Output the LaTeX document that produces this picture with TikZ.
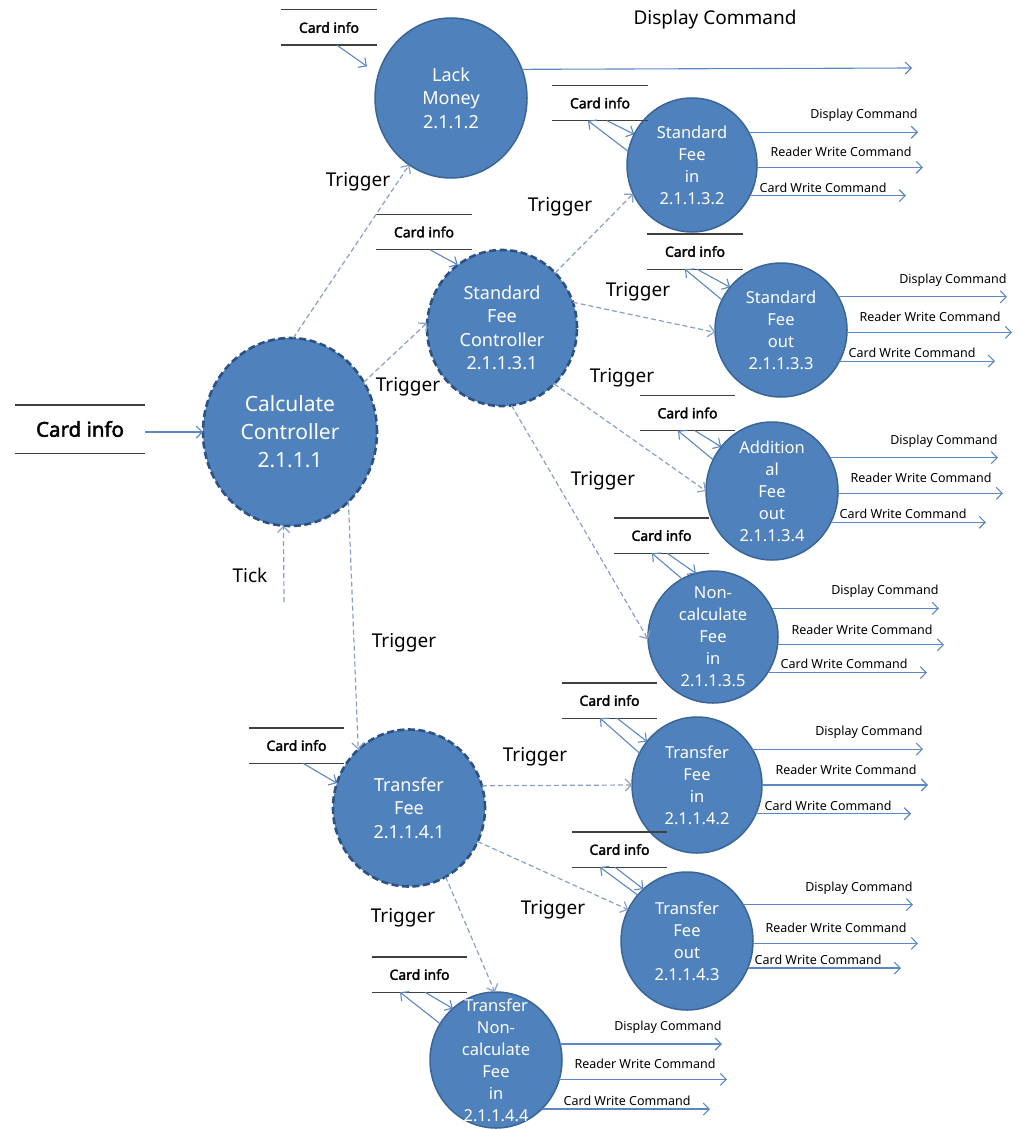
\documentclass[tikz,border=0pt]{standalone}
\usepackage{fontspec}
\setmainfont{Noto Sans}[AutoFakeBold=2.2]
\usetikzlibrary{shapes.geometric,arrows.meta}
\definecolor{procblue}{HTML}{4F81BD}
\definecolor{procedge}{HTML}{3A6594}
\definecolor{ctrledge}{HTML}{2D5282}
\definecolor{flowblue}{HTML}{5B87C2}
\definecolor{trigblue}{HTML}{8A9FC4}
\definecolor{storegray}{HTML}{3F3F3F}
\tikzset{
	proc/.style={ellipse, fill=procblue, draw=procedge, line width=1.5pt, inner sep=0pt, outer sep=0pt},
	ctrl/.style={proc, draw=ctrledge, line width=2.6pt, dash pattern=on 7pt off 3.5pt},
	ptext/.style={text=white, align=center, inner sep=0pt},
	pbig/.style={font=\fontsize{21}{28}\selectfont},
	pmid/.style={font=\fontsize{18}{23.5}\selectfont},
	psmall/.style={font=\fontsize{16.5}{22}\selectfont},
	store/.style={minimum width=95, minimum height=35, inner sep=0pt, font=\bfseries\fontsize{14}{16}\selectfont},
	storeline/.style={draw=storegray, line width=1.4pt},
	flow/.style={flowblue, line width=1.1pt, -{Straight Barb[length=6pt,width=12pt]}},
	trig/.style={trigblue, line width=1.2pt, dash pattern=on 5pt off 3pt, -{Straight Barb[length=6pt,width=12pt]}},
	cmd/.style={text=black, inner sep=0pt, font=\fontsize{12.5}{14}\selectfont},
	trglabel/.style={inner sep=0pt, font=\fontsize{19}{22}\selectfont}
}
\newcommand{\procnode}[5]{
	\node(#1) at (#3) [#2] {};
	\node(#1-t) at (#1) [ptext, #4] {#5};
}
\newcommand{\storeoutline}[1]{
	\draw[storeline] (#1.north west) -- (#1.north east);
	\draw[storeline] (#1.south west) -- (#1.south east);
}
\newcommand{\cardio}[6]{
	\draw[flow] ([xshift=#3]#1.south) -- (#2.#4);
	\draw[flow] (#2.#5) -- ([xshift=#6]#1.south);
}
\newcommand{\cmdout}[4]{
	\path (#1.center) ++(226,0) coordinate (#1-d) ++(5,0) coordinate (#1-r) ++(-17,0) coordinate (#1-c);
	\draw[flow] (#1.#2) -- (#1-d |- #1.#2) node[cmd, anchor=south east, yshift=10] {Display Command};
	\draw[flow] (#1.#3) -- (#1-r |- #1.#3) node[cmd, anchor=south east, xshift=-11, yshift=10] {Reader Write Command};
	\draw[flow] (#1.#4) -- (#1-c |- #1.#4) node[cmd, anchor=south east, xshift=-19, yshift=3] {Card Write Command};
}

\begin{document}
\begin{tikzpicture}[x=1pt,y=-1pt]
	\useasboundingbox (0,0) rectangle (1020,1129);

	\procnode{calc}{ctrl, minimum width=174, minimum height=188}{290,432}{pbig}{Calculate\\Controller\\2.1.1.1}
	\procnode{lack}{proc, minimum width=152, minimum height=160}{451,98}{pmid}{Lack\\Money\\2.1.1.2}
	\procnode{sfc}{ctrl, minimum width=150, minimum height=156}{502,328}{pmid}{Standard\\Fee\\Controller\\2.1.1.3.1}
	\procnode{sfin}{proc, minimum width=130, minimum height=134}{692,165}{psmall}{Standard\\Fee\\in\\2.1.1.3.2}
	\procnode{sfout}{proc, minimum width=132, minimum height=134}{781,330}{psmall}{Standard\\Fee\\out\\2.1.1.3.3}
	\procnode{addout}{proc, minimum width=132, minimum height=138}{772,491}{psmall}{Addition\\al\\Fee\\out\\2.1.1.3.4}
	\procnode{noncalc}{proc, minimum width=130, minimum height=132}{713,637}{psmall}{Non-\\calculate\\Fee\\in\\2.1.1.3.5}
	\procnode{tf}{ctrl, minimum width=152, minimum height=157}{409,808}{pmid}{Transfer\\Fee\\2.1.1.4.1}
	\procnode{tfin}{proc, minimum width=130, minimum height=136}{697,785}{psmall}{Transfer\\Fee\\in\\2.1.1.4.2}
	\procnode{tfout}{proc, minimum width=132, minimum height=138}{687,941}{psmall}{Transfer\\Fee\\out\\2.1.1.4.3}
	\procnode{tnc}{proc, minimum width=132, minimum height=136}{496,1060}{psmall}{Transfer\\Non-\\calculate\\Fee\\in\\2.1.1.4.4}

	\node(ci0) at (80,429) [store, minimum width=130, minimum height=48, font=\bfseries\fontsize{20.5}{24}\selectfont] {Card info};
	\node(ci1) at (329,27.5) [store] {Card info};
	\node(ci2) at (424,232) [store] {Card info};
	\node(ci3) at (600,103) [store] {Card info};
	\node(ci4) at (695,251.5) [store] {Card info};
	\node(ci5) at (687.5,413) [store] {Card info};
	\node(ci6) at (661.5,535.5) [store] {Card info};
	\node(ci7) at (609.5,700.5) [store] {Card info};
	\node(ci8) at (619.5,849.5) [store] {Card info};
	\node(ci9) at (419.5,974.5) [store] {Card info};
	\node(ci10) at (296.5,745.5) [store] {Card info};
	\foreach \s in {ci0,ci1,ci2,ci3,ci4,ci5,ci6,ci7,ci8,ci9,ci10}
		\storeoutline{\s};

	\draw[flow] ([yshift=-3]ci0.east) -- (calc.west);
	\draw[flow, shorten >=14pt] ([xshift=8]ci1.south) -- (lack.162);
	\draw[flow] ([xshift=6]ci2.south) -- (sfc.125);
	\draw[flow] ([xshift=6.5]ci10.south) -- (tf.161);
	\cardio{ci3}{sfin}{7}{152}{168}{-12}
	\cardio{ci4}{sfout}{2}{140}{153}{-10}
	\cardio{ci5}{addout}{7.5}{139}{152}{-9.5}
	\cardio{ci6}{noncalc}{5.5}{105}{118}{-9.5}
	\cardio{ci7}{tfin}{7.5}{139}{151}{-9.5}
	\cardio{ci8}{tfout}{-4.5}{130}{137}{-19.5}
	\cardio{ci9}{tnc}{5.5}{130}{147}{-19.5}

	\coordinate (lackend) at (912,68);
	\draw[flow] (lack.22) -- (lackend);
	\node(dcmd) at (715,20) [inner sep=0pt, font=\fontsize{19}{22}\selectfont] {Display Command};

	\cmdout{sfin}{30}{358}{332}
	\cmdout{sfout}{30}{358}{332}
	\cmdout{addout}{30}{358}{332}
	\cmdout{noncalc}{26}{353}{327}
	\cmdout{tfin}{33}{0}{334}
	\cmdout{tfout}{33}{358}{336}
	\cmdout{tnc}{14}{343}{313}

	\coordinate (ticksrc) at (284,602);
	\draw[trig] (ticksrc) -- (calc.266);
	\node(tick) at (250,575) [trglabel] {Tick};

	\draw[trig] (calc.88) -- (lack.238);
	\draw[trig] (calc.34) -- (sfc.176);
	\draw[trig] (calc.310) -- (tf.131);
	\draw[trig] (sfc.46) -- (sfin.206);
	\draw[trig] (sfc.20) -- (sfout.182);
	\draw[trig] (sfc.313) -- (addout.180);
	\draw[trig] (sfc.277) -- (noncalc.182);
	\draw[trig] (tf.17) -- (tfin.180);
	\draw[trig] (tf.334) -- (tfout.152);
	\draw[trig] (tf.298) -- (tnc.91);

	\node(trg1) at (358,182) [trglabel] {Trigger};
	\node(trg2) at (408,387) [trglabel] {Trigger};
	\node(trg3) at (404,643) [trglabel] {Trigger};
	\node(trg4) at (560,207) [trglabel] {Trigger};
	\node(trg5) at (638,292) [trglabel] {Trigger};
	\node(trg6) at (622,378) [trglabel] {Trigger};
	\node(trg7) at (603,481) [trglabel] {Trigger};
	\node(trg8) at (535,757) [trglabel] {Trigger};
	\node(trg9) at (553,910) [trglabel] {Trigger};
	\node(trg10) at (403,918) [trglabel] {Trigger};
\end{tikzpicture}
\end{document}
